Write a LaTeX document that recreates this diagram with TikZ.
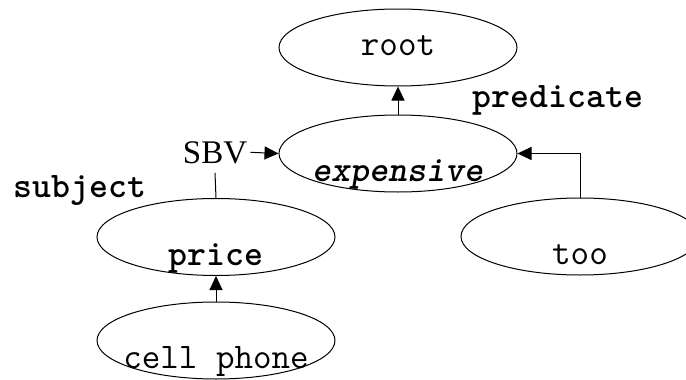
\documentclass[tikz,border=0pt]{standalone}
\usepackage{fontspec}
\newfontfamily\relfont{Liberation Serif}
\usepackage{tikz}
\usetikzlibrary{arrows.meta,shapes.geometric,positioning}

% word text sits low in its ellipse and may run over the edge
\newcommand{\lowword}[2][-14pt]{\makebox[0pt]{\raisebox{#1}[0pt][0pt]{#2}}}

\begin{document}
\begin{tikzpicture}[x=0.5pt,y=-0.5pt]
\tikzstyle{word}=[ellipse,draw,line width=0.5pt,minimum width=119pt,minimum height=38.5pt,inner sep=0pt,font=\fontsize{18}{20}\selectfont\ttfamily]
\tikzstyle{tag}=[inner sep=0pt,anchor=base,font=\fontsize{18}{20}\selectfont\ttfamily\bfseries]
\tikzstyle{dep}=[line width=0.5pt,-{Triangle[length=7pt,width=6.5pt]}]
\useasboundingbox (0,0) rectangle (686,380);
% words
\node[word] (root) at (398,47.5) {\lowword[-4pt]{root}};
\node[word] (exp) at (398,153.5) {\lowword{\bfseries\itshape expensive}};
\node[word] (price) at (216,237) {\lowword{\bfseries price}};
\node[word] (too) at (580,236.5) {\lowword{too}};
\node[word] (cell) at (216,340.5) {\lowword{cell phone}};
% relation labels
\node[tag] (pred) at (558,107) {predicate};
\node[tag] (subj) at (80,197) {subject};
\node[anchor=base,inner xsep=1.5pt,inner ysep=4.5pt,font=\fontsize{16.5}{18}\selectfont\relfont] (sbv) at (215,163) {SBV};
% dependencies
\draw[dep] (exp.north) -- (root.south);
\draw[dep] (sbv.east) -- (exp.west);
\draw[line width=0.5pt] (price.north) -- (sbv.south);
\draw[dep] (too.north) |- (exp.east);
\draw[dep] (cell.north) -- (price.south);
\end{tikzpicture}
\end{document}
